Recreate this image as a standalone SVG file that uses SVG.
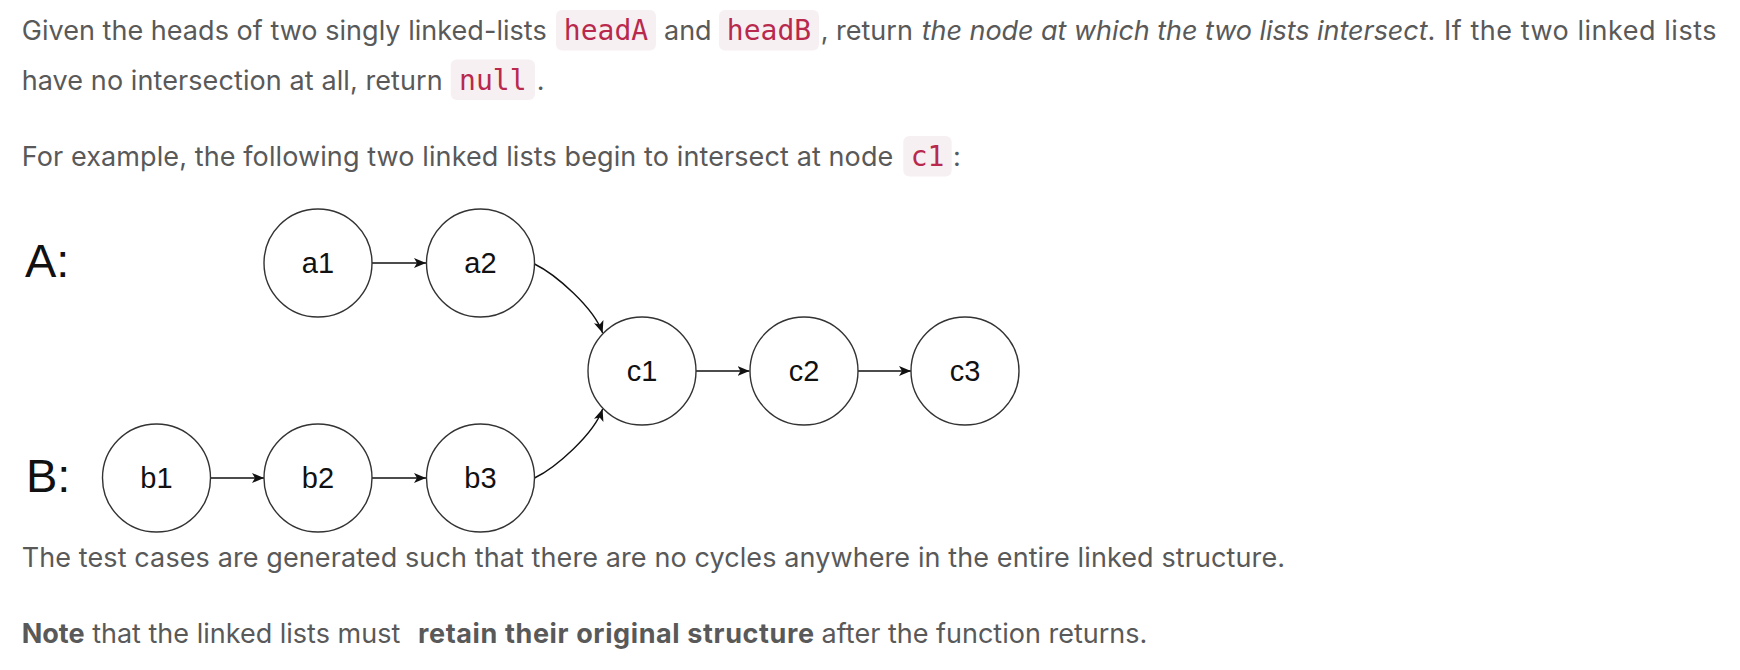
<svg xmlns="http://www.w3.org/2000/svg" width="1740" height="670" viewBox="0 0 1740 670">
<defs>
<style>
.t{font-family:Inter,"Noto Sans","Liberation Sans",sans-serif;font-size:27px;fill:#595959}
.i{font-style:italic}
.b{font-weight:700}
.code{font-family:"DejaVu Sans Mono","Liberation Mono",monospace;font-size:28px;fill:#b8294d;text-anchor:middle}
.cbox{fill:#f7f0f2}
.node circle{fill:#fff;stroke:#333;stroke-width:1.4}
.node text{font-family:"Liberation Sans",Arial,sans-serif;font-size:29px;fill:#111;text-anchor:middle}
.lbl{font-family:"Liberation Sans",Arial,sans-serif;font-size:47px;fill:#111}
.edge{fill:none;stroke:#111;stroke-width:1.4;marker-end:url(#arr)}
</style>
<marker id="arr" viewBox="0 0 12 10" refX="12" refY="5" markerWidth="12" markerHeight="10" markerUnits="userSpaceOnUse" orient="auto">
<path d="M0,0 L12,5 L0,10 L3,5 z" fill="#111"/>
</marker>
</defs>
<rect width="1740" height="670" fill="#fff"/>

<g id="text-top">
<rect class="cbox" x="556" y="10" width="100" height="40.5" rx="6"/>
<rect class="cbox" x="719" y="10" width="100" height="40.5" rx="6"/>
<rect class="cbox" x="450.7" y="59.5" width="84.3" height="40.5" rx="6"/>
<rect class="cbox" x="903.3" y="136" width="48.4" height="40.5" rx="6"/>
<text class="t" x="21.7" y="39.5" textLength="525" lengthAdjust="spacing">Given the heads of two singly linked-lists</text>
<text class="code" x="606" y="39.5">headA</text>
<text class="t" x="664" y="39.5">and</text>
<text class="code" x="769" y="39.5">headB</text>
<text class="t" x="820.7" y="39.5">, return</text>
<text class="t i" x="921.7" y="39.5" textLength="505.9" lengthAdjust="spacing">the node at which the two lists intersect</text>
<text class="t" x="1427.6" y="39.5" textLength="289" lengthAdjust="spacing">. If the two linked lists</text>
<text class="t" x="21.7" y="89.5" textLength="421" lengthAdjust="spacing">have no intersection at all, return</text>
<text class="code" x="492.8" y="89.5">null</text>
<text class="t" x="536.7" y="89.5">.</text>
<text class="t" x="21.7" y="166" textLength="871.6" lengthAdjust="spacing">For example, the following two linked lists begin to intersect at node</text>
<text class="code" x="927.5" y="166">c1</text>
<text class="t" x="953" y="166">:</text>
</g>

<text class="lbl" x="25" y="277">A:</text>
<text class="lbl" x="26" y="492">B:</text>

<g id="connectors">
<path class="edge" d="M372,263 L426,263"/>
<path class="edge" d="M210.5,478 L264,478"/>
<path class="edge" d="M372,478 L426,478"/>
<path class="edge" d="M696,371 L749.5,371"/>
<path class="edge" d="M858,371 L911,371"/>
<path class="edge" d="M534.5,264 C556,274.5 594,308 602.6,333"/>
<path class="edge" d="M534.5,478 C556,467.5 594,434 602.6,409"/>
</g>

<g id="node-a1" class="node"><circle cx="318" cy="263" r="54"/><text x="318" y="273">a1</text></g>
<g id="node-a2" class="node"><circle cx="480.5" cy="263" r="54"/><text x="480.5" y="273">a2</text></g>
<g id="node-b1" class="node"><circle cx="156.5" cy="478" r="54"/><text x="156.5" y="488">b1</text></g>
<g id="node-b2" class="node"><circle cx="318" cy="478" r="54"/><text x="318" y="488">b2</text></g>
<g id="node-b3" class="node"><circle cx="480.5" cy="478" r="54"/><text x="480.5" y="488">b3</text></g>
<g id="node-c1" class="node"><circle cx="642" cy="371" r="54"/><text x="642" y="381">c1</text></g>
<g id="node-c2" class="node"><circle cx="804" cy="371" r="54"/><text x="804" y="381">c2</text></g>
<g id="node-c3" class="node"><circle cx="965" cy="371" r="54"/><text x="965" y="381">c3</text></g>

<g id="text-bottom">
<text class="t" x="21.7" y="567" textLength="1263.3" lengthAdjust="spacing">The test cases are generated such that there are no cycles anywhere in the entire linked structure.</text>
<text class="t" y="643"><tspan class="b" x="21.7">Note</tspan> that the linked lists must <tspan class="b" x="418" textLength="396" lengthAdjust="spacing">retain their original structure</tspan><tspan x="814"> after the function returns.</tspan></text>
</g>
</svg>
